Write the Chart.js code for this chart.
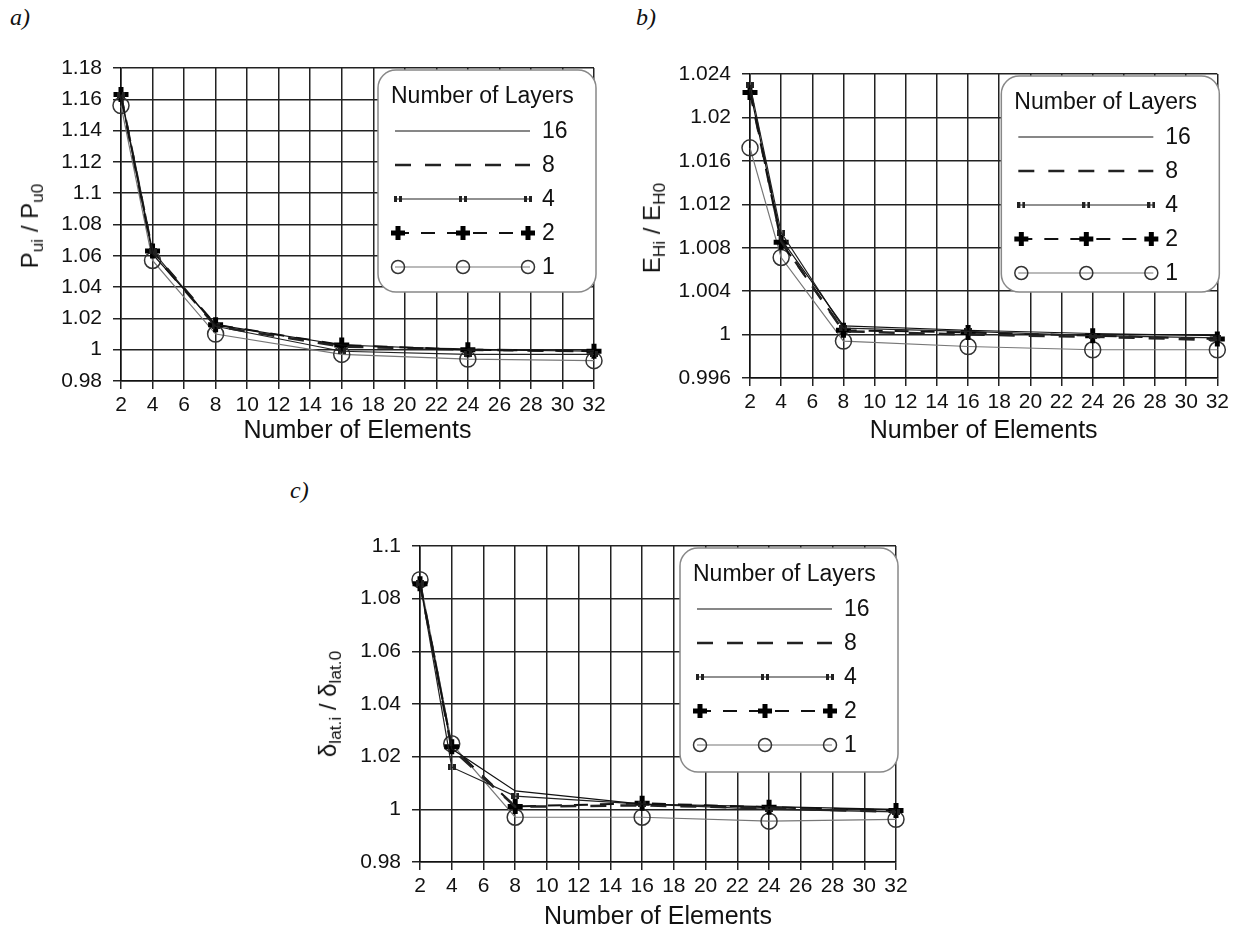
<!DOCTYPE html>
<html>
<head>
<meta charset="utf-8">
<script src="https://cdn.jsdelivr.net/npm/chart.js@4.4.1/dist/chart.umd.min.js"></script>
<style>
  html, body { margin: 0; padding: 0; background: #fff; }
  body { position: relative; width: 1233px; height: 932px; overflow: hidden;
         font-family: "Liberation Sans", Arial, sans-serif; color: #111; }
  .box { position: absolute; }
  .panel { position: absolute; font: italic 24px "Liberation Serif", serif; color: #111; }
  .ytitle { position: absolute; transform: translate(-50%, -50%) rotate(-90deg);
            white-space: nowrap; font-size: 24px; }
  .ytitle sub { font-size: 0.72em; vertical-align: -0.3em; }
</style>
</head>
<body>
<div class="panel" style="left:10px;top:4px">a)</div>
<div class="panel" style="left:636px;top:4px">b)</div>
<div class="panel" style="left:290px;top:477px">c)</div>

<div class="box" style="left:0;top:0;width:616px;height:450px"><canvas id="chartPu"></canvas></div>
<div class="box" style="left:620px;top:0;width:613px;height:450px"><canvas id="chartEh"></canvas></div>
<div class="box" style="left:290px;top:470px;width:630px;height:462px"><canvas id="chartDl"></canvas></div>

<div class="ytitle" style="left:32px;top:226px">P<sub>ui</sub> / P<sub>u0</sub></div>
<div class="ytitle" style="left:654px;top:228px">E<sub>Hi</sub> / E<sub>H0</sub></div>
<div class="ytitle" style="left:330px;top:704px">&delta;<sub>lat.i</sub> / &delta;<sub>lat.0</sub></div>

<script>
const elements = [2, 4, 8, 16, 24, 32];
const layerLabels = ['16', '8', '4', '2', '1'];

// a) ultimate load ratio
const pu16 = [1.162, 1.061, 1.016, 1.003, 1.000, 0.999];
const pu8  = [1.162, 1.062, 1.015, 1.002, 1.000, 0.999];
const pu4  = [1.163, 1.063, 1.015, 0.999, 0.997, 0.997];
const pu2  = [1.163, 1.063, 1.016, 1.003, 1.000, 0.999];
const pu1  = [1.156, 1.057, 1.010, 0.997, 0.994, 0.993];

// b) stiffness ratio
const eh16 = [1.0225, 1.0088, 1.0008, 1.0004, 1.0001, 0.9999];
const eh8  = [1.0226, 1.0086, 1.0003, 1.0000, 0.9998, 0.9995];
const eh4  = [1.0230, 1.0094, 1.0006, 1.0003, 0.9999, 0.9997];
const eh2  = [1.0223, 1.0085, 1.0004, 1.0002, 0.9999, 0.9996];
const eh1  = [1.0172, 1.0071, 0.9994, 0.9989, 0.9986, 0.9986];

// c) lateral displacement ratio
const dl16 = [1.086, 1.023, 1.007, 1.002, 1.001, 1.000];
const dl8  = [1.086, 1.023, 1.001, 1.0015, 1.0005, 0.999];
const dl4  = [1.086, 1.016, 1.005, 1.002, 1.000, 0.999];
const dl2  = [1.0857, 1.0238, 1.0011, 1.0023, 1.0008, 0.9996];
const dl1  = [1.0872, 1.0249, 0.997, 0.997, 0.9955, 0.9962];

// y axis ranges: [min, max, step, decimals]
const puAxis = [0.98, 1.18, 0.02, 2];
const ehAxis = [0.996, 1.024, 0.004, 3];
const dlAxis = [0.98, 1.1, 0.02, 2];

// small "ıı" marker used for the 4-layer series
function barsMarker() {
  const c = document.createElement('canvas');
  c.width = 8; c.height = 6;
  const g = c.getContext('2d');
  g.fillStyle = '#222';
  g.fillRect(0, 0, 3, 6);
  g.fillRect(5, 0, 3, 6);
  return c;
}

const layerStyles = [
  { borderColor: '#111', borderWidth: 1.2, pointRadius: 0 },
  { borderColor: '#222', borderWidth: 2.5, borderDash: [16, 14], pointRadius: 0 },
  { borderColor: '#222', borderWidth: 1.2, pointStyle: barsMarker(), pointRadius: 4, legendRadius: 4 },
  { borderColor: '#111', borderWidth: 2, borderDash: [14, 12], pointStyle: 'cross', pointRadius: 7.5,
    legendRadius: 7, pointBorderWidth: 5, pointBorderColor: '#000' },
  { borderColor: '#777', borderWidth: 1.2, pointStyle: 'circle', pointRadius: 8, legendRadius: 6.5,
    pointBorderWidth: 1.5, pointBorderColor: '#333', pointBackgroundColor: 'rgba(255,255,255,0)' }
];

const tickFont = { family: '"Liberation Sans", Arial, sans-serif', size: 21 };
const titleFont = { family: '"Liberation Sans", Arial, sans-serif', size: 25 };

function roundRect(ctx, x, y, w, h, r) {
  ctx.beginPath();
  ctx.moveTo(x + r, y);
  ctx.lineTo(x + w - r, y);
  ctx.arcTo(x + w, y, x + w, y + r, r);
  ctx.lineTo(x + w, y + h - r);
  ctx.arcTo(x + w, y + h, x + w - r, y + h, r);
  ctx.lineTo(x + r, y + h);
  ctx.arcTo(x, y + h, x, y + h - r, r);
  ctx.lineTo(x, y + r);
  ctx.arcTo(x, y, x + r, y, r);
  ctx.closePath();
}

// boxed legend in the upper right corner of the plot
const layerLegend = {
  id: 'layerLegend',
  afterDatasetsDraw(chart, args, opts) {
    const { ctx, chartArea } = chart;
    const w = opts.width, h = opts.height;
    const x0 = chartArea.right + 2 - w, y0 = chartArea.top + 2;
    ctx.save();
    roundRect(ctx, x0, y0, w, h, 18);
    ctx.fillStyle = '#fff';
    ctx.fill();
    ctx.strokeStyle = '#888';
    ctx.lineWidth = 1.5;
    ctx.stroke();

    ctx.font = '23px "Liberation Sans", Arial, sans-serif';
    ctx.fillStyle = '#111';
    ctx.textBaseline = 'middle';
    ctx.fillText('Number of Layers', x0 + 13, y0 + 27);

    chart.data.datasets.forEach((ds, i) => {
      const y = y0 + 61 + i * 34;
      const xa = x0 + 20, xb = x0 + 150;
      ctx.save();
      ctx.strokeStyle = ds.borderColor;
      ctx.lineWidth = ds.borderWidth;
      ctx.setLineDash(ds.borderDash || []);
      ctx.beginPath();
      ctx.moveTo(xa - 3, y);
      ctx.lineTo(xb + 2, y);
      ctx.stroke();
      ctx.setLineDash([]);
      if (ds.pointRadius > 0) {
        ctx.strokeStyle = ds.pointBorderColor || ds.borderColor;
        ctx.fillStyle = ds.pointBackgroundColor || ds.borderColor;
        ctx.lineWidth = ds.pointBorderWidth || 1;
        [xa, (xa + xb) / 2, xb].forEach(px => {
          Chart.helpers.drawPoint(ctx, {
            pointStyle: ds.pointStyle, radius: ds.legendRadius, rotation: 0,
            borderWidth: ds.pointBorderWidth || 0
          }, px, y);
        });
      }
      ctx.restore();
      ctx.fillStyle = '#111';
      ctx.fillText(ds.label, x0 + 164, y + 1);
    });
    ctx.restore();
  }
};

function drawPanel(id, series, axis, geom) {
  const [yMin, yMax, yStep, digits] = axis;
  new Chart(document.getElementById(id), {
    type: 'line',
    data: {
      datasets: layerLabels.map((lab, i) => Object.assign({
        label: lab,
        data: elements.map((x, j) => ({ x, y: series[i][j] })),
        tension: 0, fill: false, clip: 12
      }, layerStyles[i]))
    },
    options: {
      responsive: true, maintainAspectRatio: false, animation: false,
      events: [],
      layout: { padding: { top: geom.top, right: geom.right, left: 0, bottom: 0 } },
      plugins: {
        legend: { display: false },
        tooltip: { enabled: false },
        layerLegend: { width: 218, height: geom.legH }
      },
      scales: {
        x: {
          type: 'linear', min: 2, max: 32,
          ticks: { stepSize: 2, autoSkip: false, maxRotation: 0, padding: 4, color: '#111', font: tickFont },
          grid: { color: '#222', lineWidth: 1.5, tickLength: 8 },
          border: { color: '#111', width: 1.5 },
          title: { display: true, text: 'Number of Elements', color: '#111', font: titleFont,
                   padding: { top: 0, bottom: geom.titlePad } },
          afterFit: s => { s.height = geom.xH; }
        },
        y: {
          min: yMin, max: yMax,
          ticks: { stepSize: yStep, padding: 11, color: '#111', font: tickFont,
                   callback: v => String(+v.toFixed(digits)) },
          grid: { color: '#222', lineWidth: 1.5, tickLength: 8 },
          border: { color: '#111', width: 1.5 },
          afterFit: s => { s.width = geom.yW; }
        }
      }
    },
    plugins: [layerLegend]
  });
}

drawPanel('chartPu', [pu16, pu8, pu4, pu2, pu1], puAxis,
  { top: 68, right: 22, yW: 121, xH: 69, titlePad: 4, legH: 222 });
drawPanel('chartEh', [eh16, eh8, eh4, eh2, eh1], ehAxis,
  { top: 74, right: 15, yW: 130, xH: 72, titlePad: 4, legH: 216 });
drawPanel('chartDl', [dl16, dl8, dl4, dl2, dl1], dlAxis,
  { top: 76, right: 24, yW: 130, xH: 70, titlePad: 0, legH: 224 });
</script>
</body>
</html>
